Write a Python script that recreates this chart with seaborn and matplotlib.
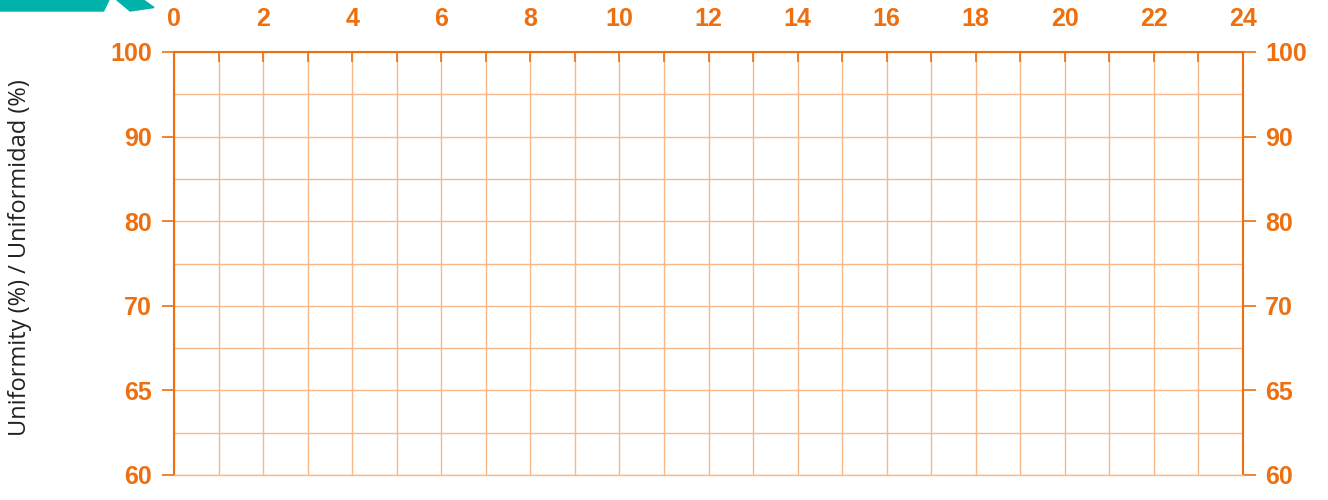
import numpy as np
import pandas as pd
import seaborn as sns
import matplotlib.pyplot as plt
from matplotlib.patches import Polygon

# Axis content of the (empty) uniformity chart
hours = list(range(0, 25))
hour_labels = [str(h) if h % 2 == 0 else "" for h in hours]
uniformity_levels = [60, 65, 70, 80, 90, 100]
ylabel_text = "Uniformity (%) / Uniformidad (%)"

ORANGE = "#EE6F0F"
GRID = "#F7B98A"

sns.set_style("white")
plt.rcParams['font.family'] = ['Liberation Sans', 'DejaVu Sans']

fig = plt.figure(figsize=(13.28, 5), dpi=100)
ax = fig.add_axes([174 / 1328, 25 / 500, (1243 - 174) / 1328, (475 - 52) / 500])

# empty data frame on the categorical uniformity scale
df = pd.DataFrame({"hour": pd.Series([], dtype=float), "level": pd.Series([], dtype=float)})
sns.lineplot(data=df, x="hour", y="level", ax=ax)

ax.set_xlim(hours[0], hours[-1])
ax.set_ylim(0, len(uniformity_levels) - 1)

# x axis on top
ax.xaxis.tick_top()
ax.set_xticks(hours)
ax.set_xticklabels(hour_labels)
ax.tick_params(axis="x", direction="in", length=7, width=1.2, color=ORANGE,
               labelcolor=ORANGE, labelsize=18, pad=15)
for lbl in ax.get_xticklabels():
    lbl.set_fontweight("bold")

# y axis: equally spaced levels, labels on both sides
ypos = np.arange(len(uniformity_levels))
ax.set_yticks(ypos)
ax.set_yticklabels([str(v) for v in uniformity_levels])
ax.set_yticks(ypos[:-1] + 0.5, minor=True)
ax.tick_params(axis="y", which="major", direction="out", length=9, width=1.2,
               color=ORANGE, labelcolor=ORANGE, labelsize=18, left=True, right=True,
               labelleft=True, labelright=True, pad=7)
ax.tick_params(axis="y", which="minor", length=0)
for lbl in ax.get_yticklabels():
    lbl.set_fontweight("bold")

ax.grid(True, axis="x", color=GRID, linewidth=1)
ax.grid(True, axis="y", which="both", color=GRID, linewidth=1)

for side in ["left", "right", "top"]:
    ax.spines[side].set_color(ORANGE)
    ax.spines[side].set_linewidth(1.5)
ax.spines["bottom"].set_color(GRID)
ax.spines["bottom"].set_linewidth(1)

ax.set_xlabel("")
ax.set_ylabel("")
fig.text(20 / 1328, 1 - 258 / 500, ylabel_text, rotation=90, ha="center", va="center",
         fontsize=17, color="#222222", family=["Open Sans", "DejaVu Sans"])

# partial teal logo in the top-left corner
teal = "#00B2A9"
fig.patches.append(Polygon([[0, 1.0], [0.082, 1.0], [0.078, 0.978], [0.0, 0.978]],
                           closed=True, transform=fig.transFigure, color=teal))
fig.patches.append(Polygon([[0.088, 1.0], [0.108, 1.0], [0.116, 0.985], [0.098, 0.978]],
                           closed=True, transform=fig.transFigure, color=teal))

fig.savefig("out.png", dpi=100)
